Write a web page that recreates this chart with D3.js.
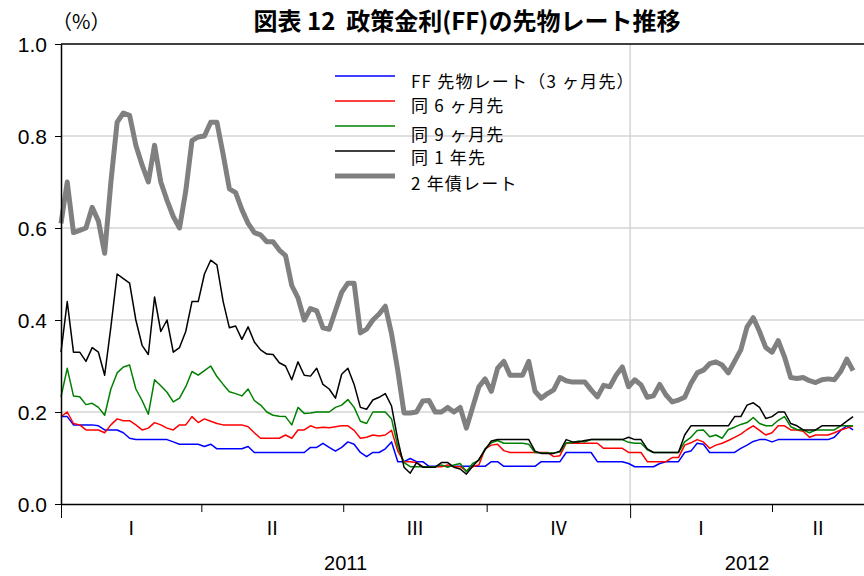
<!DOCTYPE html>
<html>
<head>
<meta charset="utf-8">
<script src="https://cdn.jsdelivr.net/npm/d3@7"></script>
<style>
  body { margin: 0; background: #fff; }
  text { font-family: "Liberation Sans", Arial, sans-serif; fill: #000; }
  .jp { font-family: "Noto Sans CJK JP", sans-serif; }
</style>
</head>
<body>
<script>
//
// FF futures vs 2-year note, Jan 2011 - May 2012
//

// Sample dates: every 4 days from the start of 2011.
const dates = d3.range(128).map(i => d3.timeDay.offset(new Date(2011, 0, 1), 4 * i));

// FF futures, 3 months ahead
const ff3m = [
  0.19,0.19,0.172,0.172,0.172,0.172,0.17,0.161,0.161,0.161,0.155,0.143,0.14,0.14,0.14,0.14,
  0.14,0.14,0.135,0.13,0.13,0.13,0.13,0.125,0.13,0.12,0.12,0.12,0.12,0.12,0.125,0.112,
  0.112,0.112,0.112,0.112,0.112,0.112,0.112,0.112,0.123,0.123,0.132,0.123,0.115,0.123,0.135,0.13,
  0.112,0.103,0.112,0.112,0.12,0.135,0.092,0.092,0.099,0.092,0.092,0.082,0.082,0.082,0.082,0.082,
  0.082,0.082,0.082,0.082,0.082,0.092,0.092,0.082,0.082,0.082,0.082,0.082,0.082,0.092,0.092,0.092,
  0.092,0.112,0.112,0.112,0.112,0.112,0.092,0.092,0.092,0.092,0.092,0.088,0.081,0.081,0.081,0.081,
  0.088,0.092,0.092,0.092,0.112,0.115,0.132,0.13,0.112,0.112,0.112,0.112,0.112,0.121,0.128,0.136,
  0.14,0.14,0.135,0.14,0.14,0.14,0.14,0.14,0.14,0.14,0.14,0.14,0.145,0.16,0.17,0.161
];
// 6 months ahead
const ff6m = [
  0.19,0.20,0.175,0.172,0.161,0.161,0.161,0.155,0.172,0.185,0.181,0.181,0.172,0.161,0.165,0.177,
  0.172,0.165,0.161,0.172,0.172,0.19,0.177,0.185,0.18,0.175,0.172,0.172,0.172,0.172,0.168,0.155,
  0.143,0.143,0.143,0.143,0.15,0.143,0.161,0.161,0.17,0.165,0.167,0.166,0.168,0.17,0.17,0.16,
  0.143,0.145,0.15,0.148,0.15,0.16,0.115,0.092,0.092,0.09,0.081,0.081,0.081,0.081,0.085,0.081,
  0.081,0.072,0.081,0.085,0.12,0.128,0.13,0.116,0.112,0.112,0.112,0.112,0.112,0.112,0.112,0.103,
  0.105,0.132,0.132,0.132,0.132,0.132,0.132,0.121,0.121,0.121,0.121,0.112,0.112,0.112,0.092,0.092,
  0.092,0.092,0.101,0.101,0.128,0.133,0.14,0.135,0.121,0.128,0.132,0.138,0.145,0.152,0.162,0.17,
  0.16,0.15,0.155,0.17,0.17,0.161,0.161,0.158,0.145,0.15,0.15,0.15,0.155,0.161,0.165,0.17
];
// 9 months ahead
const ff9m = [
  0.233,0.295,0.235,0.233,0.216,0.219,0.21,0.193,0.25,0.285,0.298,0.302,0.25,0.225,0.195,0.27,
  0.257,0.243,0.222,0.23,0.255,0.288,0.28,0.29,0.30,0.277,0.26,0.244,0.24,0.235,0.25,0.225,
  0.215,0.20,0.193,0.191,0.19,0.172,0.21,0.197,0.198,0.20,0.20,0.20,0.21,0.215,0.227,0.21,
  0.18,0.175,0.20,0.20,0.20,0.185,0.125,0.09,0.081,0.081,0.081,0.081,0.081,0.085,0.08,0.085,
  0.088,0.07,0.088,0.095,0.12,0.133,0.138,0.132,0.132,0.132,0.132,0.13,0.112,0.111,0.111,0.111,
  0.113,0.133,0.133,0.137,0.135,0.14,0.14,0.14,0.14,0.14,0.14,0.134,0.132,0.132,0.118,0.112,
  0.112,0.112,0.112,0.112,0.135,0.145,0.16,0.161,0.146,0.15,0.143,0.162,0.167,0.173,0.177,0.188,
  0.175,0.17,0.17,0.182,0.19,0.168,0.162,0.161,0.155,0.161,0.161,0.161,0.161,0.17,0.17,0.17
];
// 1 year ahead
const ff1y = [
  0.33,0.44,0.33,0.33,0.31,0.34,0.33,0.28,0.385,0.50,0.49,0.48,0.40,0.345,0.325,0.45,
  0.375,0.40,0.33,0.34,0.375,0.44,0.44,0.50,0.53,0.52,0.44,0.383,0.387,0.358,0.385,0.352,
  0.335,0.326,0.325,0.307,0.30,0.27,0.309,0.28,0.278,0.295,0.26,0.25,0.23,0.282,0.295,0.26,
  0.21,0.206,0.226,0.232,0.24,0.213,0.14,0.08,0.067,0.09,0.08,0.08,0.08,0.09,0.09,0.08,
  0.076,0.065,0.082,0.097,0.118,0.137,0.14,0.14,0.14,0.14,0.14,0.14,0.115,0.11,0.11,0.11,
  0.115,0.14,0.135,0.135,0.138,0.14,0.14,0.14,0.14,0.14,0.14,0.145,0.14,0.14,0.12,0.112,
  0.112,0.112,0.112,0.112,0.15,0.17,0.17,0.17,0.17,0.17,0.17,0.17,0.19,0.19,0.215,0.22,
  0.21,0.186,0.19,0.20,0.20,0.175,0.17,0.161,0.161,0.161,0.17,0.17,0.17,0.17,0.18,0.19
];
// 2-year note yield
const note2y = [
  0.61,0.70,0.59,0.595,0.60,0.645,0.615,0.545,0.70,0.83,0.85,0.845,0.78,0.737,0.70,0.78,
  0.70,0.66,0.625,0.60,0.68,0.79,0.798,0.80,0.83,0.83,0.76,0.685,0.677,0.64,0.61,0.59,
  0.585,0.57,0.57,0.552,0.54,0.475,0.448,0.40,0.425,0.42,0.383,0.38,0.42,0.46,0.48,0.48,
  0.372,0.38,0.40,0.413,0.43,0.37,0.29,0.198,0.198,0.20,0.224,0.225,0.20,0.20,0.21,0.20,
  0.21,0.165,0.21,0.255,0.272,0.245,0.295,0.31,0.28,0.28,0.28,0.31,0.245,0.23,0.24,0.248,
  0.275,0.268,0.265,0.265,0.265,0.248,0.233,0.258,0.255,0.28,0.298,0.255,0.27,0.259,0.232,0.235,
  0.26,0.237,0.222,0.226,0.232,0.262,0.285,0.291,0.305,0.309,0.302,0.285,0.31,0.335,0.385,0.405,
  0.375,0.34,0.33,0.355,0.32,0.275,0.273,0.275,0.268,0.264,0.27,0.272,0.27,0.288,0.315,0.29
];

const yTicks = [0, 0.2, 0.4, 0.6, 0.8, 1.0];
const quarterStarts = [new Date(2011,0,1), new Date(2011,3,1), new Date(2011,6,1),
                       new Date(2011,9,1), new Date(2012,0,1), new Date(2012,3,1)];
const quarterLabels = ["Ⅰ", "Ⅱ", "Ⅲ", "Ⅳ", "Ⅰ", "Ⅱ"];
const yearStarts = [new Date(2011,0,1), new Date(2012,0,1)];
const yearLabels = ["2011", "2012"];
const endDate = new Date(2012, 4, 30);

const series = [
  {name: "FF 先物レート（3 ヶ月先）", values: ff3m, color: "#0000ff", width: 1.5},
  {name: "同 6 ヶ月先", values: ff6m, color: "#ff0000", width: 1.5},
  {name: "同 9 ヶ月先", values: ff9m, color: "#008000", width: 1.5},
  {name: "同 1 年先", values: ff1y, color: "#000000", width: 1.5},
  {name: "2 年債レート", values: note2y, color: "#808080", width: 5}
];

// Margin convention
const margin = {top: 44, right: 0, bottom: 72, left: 61};
const width = 864 - margin.left - margin.right,
      height = 576 - margin.top - margin.bottom;

const svg = d3.select("body").append("svg")
              .attr("width", width + margin.left + margin.right)
              .attr("height", height + margin.top + margin.bottom)
              .append("g")
              .attr("transform", `translate(${margin.left},${margin.top})`);

const xScale = d3.scaleTime()
                 .domain([new Date(2011,0,1), endDate])
                 .range([0, width]);
const yScale = d3.scaleLinear()
                 .domain([0, 1])
                 .range([height, 0]);

// Gridlines
svg.append("g")
   .selectAll("line")
   .data(yTicks.slice(1, -1))
   .join("line")
   .attr("x1", 0).attr("x2", width)
   .attr("y1", d => yScale(d)).attr("y2", d => yScale(d))
   .attr("stroke", "#d4d4d4").attr("stroke-width", 1.5);
svg.append("line")
   .attr("x1", xScale(yearStarts[1])).attr("x2", xScale(yearStarts[1]))
   .attr("y1", 0).attr("y2", height)
   .attr("stroke", "#d4d4d4").attr("stroke-width", 1.5);

// Lines
const line = d3.line()
               .x((d, i) => xScale(dates[i]))
               .y(d => yScale(d));

svg.append("g")
   .selectAll("path")
   .data(series)
   .join("path")
   .attr("fill", "none")
   .attr("stroke", d => d.color)
   .attr("stroke-width", d => d.width)
   .attr("stroke-linejoin", "round")
   .attr("d", d => line(d.values));

// Y axis
const yAxis = svg.append("g")
   .call(d3.axisLeft(yScale).tickValues(yTicks).tickFormat(d3.format(".1f")).tickSize(6).tickSizeOuter(0));
yAxis.select(".domain").attr("stroke-width", 1.5);
yAxis.selectAll(".tick text")
     .attr("font-size", "21px")
     .attr("x", -14)
     .attr("dy", "0.36em");

// X axis: quarter ticks, longer ticks at year starts
const xAxis = svg.append("g")
   .attr("transform", `translate(0,${height})`)
   .call(d3.axisBottom(xScale).tickValues(quarterStarts).tickFormat("").tickSize(8).tickSizeOuter(0));
xAxis.select(".domain").attr("stroke-width", 1.5);
xAxis.selectAll(".tick line")
     .filter(d => d.getMonth() === 0)
     .attr("y2", 14);

// top frame
svg.append("line")
   .attr("x1", 0).attr("x2", width)
   .attr("y1", 0).attr("y2", 0)
   .attr("stroke", "#000").attr("stroke-width", 1.5);

// quarter labels, centred in each quarter
const qEnds = quarterStarts.slice(1).concat([endDate]);
svg.append("g")
   .selectAll("text")
   .data(quarterLabels)
   .join("text")
   .attr("class", "jp")
   .attr("x", (d, i) => (xScale(quarterStarts[i]) + xScale(qEnds[i])) / 2)
   .attr("y", height + 31)
   .attr("text-anchor", "middle")
   .attr("font-size", "19px")
   .text(d => d);

const yEnds = [yearStarts[1], endDate];
svg.append("g")
   .selectAll("text")
   .data(yearLabels)
   .join("text")
   .attr("x", (d, i) => (xScale(yearStarts[i]) + xScale(yEnds[i])) / 2)
   .attr("y", height + 66)
   .attr("text-anchor", "middle")
   .attr("font-size", "20px")
   .text(d => d);

// Title and unit
svg.append("text")
   .attr("class", "jp")
   .attr("x", 406)
   .attr("y", -14)
   .attr("text-anchor", "middle")
   .attr("font-size", "24px")
   .attr("font-weight", "bold")
   .style("white-space", "pre")
   .text("図表 12  政策金利(FF)の先物レート推移");
svg.append("text")
   .attr("class", "jp")
   .attr("x", -9)
   .attr("y", -15)
   .attr("font-size", "20px")
   .text("（%）");

// Legend
const legend = svg.append("g")
                  .attr("transform", "translate(274,32)");
const rowY = [0, 25, 50, 75, 100];
legend.selectAll("line")
      .data(series)
      .join("line")
      .attr("x1", 0).attr("x2", 60)
      .attr("y1", (d, i) => rowY[i]).attr("y2", (d, i) => rowY[i])
      .attr("stroke", d => d.color)
      .attr("stroke-width", d => d.width);
legend.selectAll("text")
      .data(series)
      .join("text")
      .attr("class", "jp")
      .attr("x", 76)
      .attr("y", (d, i) => rowY[i] + [12, 11, 15, 13, 14][i])
      .attr("font-size", "17px")
      .attr("letter-spacing", "1.2px")
      .text(d => d.name);
</script>
</body>
</html>
